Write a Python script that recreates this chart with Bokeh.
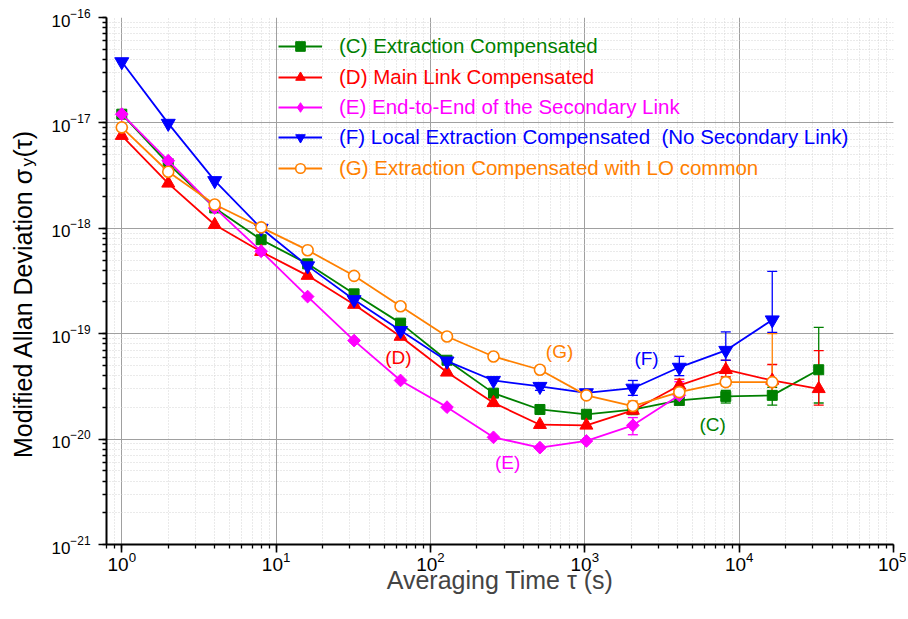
import math
from bokeh.plotting import figure
from bokeh.layouts import row
from bokeh.models import (Range1d, LogTicker, LogTickFormatter, Legend, LegendItem,
                          Whisker, TeeHead, ColumnDataSource, Label)
from bokeh.core.properties import value
from bokeh.embed import file_html
from bokeh.resources import INLINE

FONT = "Liberation Sans"

# ---------------- data ----------------
tau = [1, 2, 4, 8, 16, 32, 64, 128, 256, 512, 1024, 2048, 4096, 8192, 16384, 32768]

C_vals = [1.21e-17, 4.1e-18, 1.56e-18, 7.8e-19, 4.6e-19, 2.39e-19, 1.26e-19, 5.6e-20,
          2.73e-20, 1.91e-20, 1.72e-20, 1.9e-20, 2.33e-20, 2.54e-20, 2.6e-20, 4.55e-20]
D_vals = [7.57e-18, 2.67e-18, 1.08e-18, 6.0e-19, 3.56e-19, 1.89e-19, 9.4e-20, 4.3e-20,
          2.21e-20, 1.37e-20, 1.35e-20, 1.87e-20, 3.23e-20, 4.55e-20, 3.6e-20, 3.0e-20]
E_vals = [1.21e-17, 4.38e-18, 1.56e-18, 6.05e-19, 2.25e-19, 8.6e-20, 3.6e-20, 2.01e-20,
          1.04e-20, 8.3e-21, 9.6e-21, 1.35e-20, 2.6e-20]
F_vals = [3.8e-17, 9.9e-18, 2.83e-18, 1.0e-18, 4.4e-19, 2.1e-19, 1.07e-19, 5.5e-20,
          3.6e-20, 3.16e-20, 2.75e-20, 3.04e-20, 4.8e-20, 6.94e-20, 1.35e-19]
G_vals = [9.06e-18, 3.44e-18, 1.68e-18, 1.02e-18, 6.2e-19, 3.54e-19, 1.82e-19, 9.4e-20,
          6.08e-20, 4.55e-20, 2.6e-20, 2.06e-20, 2.79e-20, 3.47e-20, 3.47e-20]

# error bars: tau, lower, upper
C_err_tau = [4096, 8192, 16384, 32768]
C_err_lo = [2.1e-20, 2.2e-20, 2.1e-20, 2.2e-20]
C_err_hi = [2.6e-20, 2.9e-20, 3.1e-20, 1.15e-19]
D_err_tau = [4096, 8192, 16384, 32768]
D_err_lo = [2.8e-20, 3.9e-20, 2.6e-20, 2.1e-20]
D_err_hi = [3.7e-20, 5.6e-20, 5.1e-20, 6.9e-20]
E_err_tau = [2048, 4096]
E_err_lo = [1.1e-20, 2.1e-20]
E_err_hi = [1.6e-20, 3.5e-20]
F_err_tau = [512, 1024, 2048, 4096, 8192, 16384]
F_err_lo = [2.9e-20, 2.5e-20, 2.6e-20, 4.0e-20, 5.6e-20, 1.03e-19]
F_err_hi = [3.4e-20, 2.95e-20, 3.6e-20, 6.1e-20, 1.04e-19, 3.9e-19]
G_err_tau = [2048, 8192, 16384]
G_err_lo = [1.85e-20, 3.2e-20, 2.7e-20]
G_err_hi = [2.3e-20, 3.8e-20, 1.0e-19]

labels = ["(C) Extraction Compensated",
          "(D) Main Link Compensated",
          "(E) End-to-End of the Secondary Link",
          "(F) Local Extraction Compensated  (No Secondary Link)",
          "(G) Extraction Compensated with LO common"]
colors = ["#008000", "#FF0000", "#FF00FF", "#0000FF", "#FF8000"]

ann_text = ["(C)", "(D)", "(E)", "(F)", "(G)"]
ann_tau = [6730, 62, 316, 2512, 686]
ann_y = [1.38e-20, 5.9e-20, 6.0e-21, 5.8e-20, 6.8e-20]

x_label = "Averaging Time τ (s)"
y_label_parts = ["Modified Allan Deviation σ", "y", "(τ)"]

x_range = (10 ** -0.099, 1e5)
y_range = (1e-21, 1e-16)

# ---------------- layout sizes ----------------
H = 617
LW = 42          # width of the strip holding the y-axis title
W = 906 - LW
B_TOP, B_BOT = 17, 73

# ---------------- main figure ----------------
p = figure(width=W, height=H, x_axis_type="log", y_axis_type="log",
           x_range=Range1d(*x_range), y_range=Range1d(*y_range),
           output_backend="svg", toolbar_location=None,
           min_border_left=106 - LW, min_border_right=13, min_border_top=B_TOP,
           min_border_bottom=B_BOT)
p.outline_line_color = None
p.background_fill_color = "white"

for ax in (p.xaxis[0], p.yaxis[0]):
    ax.ticker = LogTicker(num_minor_ticks=10)
    ax.formatter = LogTickFormatter()
    ax.axis_line_width = 2
    ax.axis_line_color = "black"
    ax.major_tick_in = 0
    ax.major_tick_out = 8
    ax.minor_tick_in = 0
    ax.minor_tick_out = 4
    ax.major_tick_line_width = 1.6
    ax.minor_tick_line_width = 1.3
    ax.major_tick_line_color = "black"
    ax.minor_tick_line_color = "black"
    ax.major_label_text_font = FONT
    ax.major_label_text_color = "black"

p.xaxis.major_label_text_font_size = "19px"
p.yaxis.major_label_text_font_size = "17px"
p.xaxis.major_label_standoff = -1
p.yaxis.major_label_standoff = 8
p.xaxis.axis_label = x_label
p.xaxis.axis_label_text_font = FONT
p.xaxis.axis_label_text_font_size = "25px"
p.xaxis.axis_label_text_font_style = "normal"
p.xaxis.axis_label_standoff = -8

for g in (p.xgrid[0], p.ygrid[0]):
    g.grid_line_color = "#a0a0a0"
    g.grid_line_width = 1
    g.minor_grid_line_color = "#d4d4d4"
    g.minor_grid_line_dash = "1 2"
    g.minor_grid_line_width = 1

# error bars
err_sets = [(C_err_tau, C_err_lo, C_err_hi), (D_err_tau, D_err_lo, D_err_hi),
            (E_err_tau, E_err_lo, E_err_hi), (F_err_tau, F_err_lo, F_err_hi),
            (G_err_tau, G_err_lo, G_err_hi)]
for (et, lo, hi), col in zip(err_sets, colors):
    src = ColumnDataSource(dict(base=et, lower=lo, upper=hi))
    w = Whisker(source=src, base="base", lower="lower", upper="upper",
                line_color=col, line_width=1.3,
                upper_head=TeeHead(size=10, line_color=col, line_width=1.3),
                lower_head=TeeHead(size=10, line_color=col, line_width=1.3))
    p.add_layout(w)

series = [C_vals, D_vals, E_vals, F_vals, G_vals]
markers = [dict(marker="square", size=10),
           dict(marker="triangle", size=13),
           dict(marker="square", size=9, angle=math.pi / 4),
           dict(marker="inverted_triangle", size=14),
           dict(marker="circle", size=11)]

rend = []
for vals, col, mk, i in zip(series, colors, markers, range(5)):
    xs = tau[:len(vals)]
    ln = p.line(xs, vals, line_color=col, line_width=1.8)
    fill = "white" if i == 4 else col
    if i == 2:
        # narrow diamond hidden beneath the rotated squares; used as legend glyph
        sc_leg = p.scatter(xs, vals, marker="diamond", size=10, fill_color=col, line_color=col)
    sc = p.scatter(xs, vals, fill_color=fill, line_color=col,
                   line_width=1.6 if i == 4 else 1, **mk)
    rend.append((ln, sc_leg if i == 2 else sc))

# legends (one per entry, each with its own text colour)
row_centers_from_bottom = [498, 467, 437, 407, 376]
for (ln, sc), lab, col, yc in zip(rend, labels, colors, row_centers_from_bottom):
    leg = Legend(items=[LegendItem(label=lab, renderers=[ln, sc])],
                 location=(172, yc - 12), padding=0, margin=0, spacing=0,
                 glyph_width=44, glyph_height=24, label_height=24, label_standoff=17,
                 label_text_font=FONT, label_text_font_size="20.5px",
                 label_text_color=col, background_fill_alpha=0, border_line_alpha=0)
    p.add_layout(leg)

# curve annotations
ann_colors = dict(zip(ann_text, colors))
for t, xv, yv in zip(ann_text, ann_tau, ann_y):
    p.add_layout(Label(x=xv, y=yv, text=t, text_color=ann_colors[t], text_align="center",
                       text_baseline="middle", text_font=FONT, text_font_size="19px"))

# ---------------- y-axis title strip ----------------
# row() aligns this strip's frame with the main frame (top 17, bottom 73 px borders),
# so its y range is set so that one data unit = one pixel measured from the canvas bottom
ylab = figure(width=LW, height=H, x_range=Range1d(0, LW), y_range=Range1d(B_BOT, H - B_TOP),
              output_backend="svg", toolbar_location=None,
              x_axis_location=None, y_axis_location=None,
              min_border_left=0, min_border_right=0, min_border_top=B_TOP,
              min_border_bottom=B_BOT)
ylab.outline_line_color = None
ylab.xgrid.visible = False
ylab.ygrid.visible = False

TS = 25
base_x = 22
joint_y = 450      # where "σ" ends and the subscript begins (pixels from canvas bottom)
ylab.text(x=[base_x], y=[joint_y], text=[y_label_parts[0]], angle=math.pi / 2,
          text_align="right", text_baseline="alphabetic", text_font=value(FONT),
          text_font_size=f"{TS}px", text_color="black")
ylab.text(x=[base_x + 5], y=[joint_y + 1], text=[y_label_parts[1]], angle=math.pi / 2,
          text_align="left", text_baseline="alphabetic", text_font=value(FONT),
          text_font_size="17px", text_color="black")
ylab.text(x=[base_x], y=[joint_y + 10], text=[y_label_parts[2]], angle=math.pi / 2,
          text_align="left", text_baseline="alphabetic", text_font=value(FONT),
          text_font_size=f"{TS}px", text_color="black")

layout = row(ylab, p)
open("out.html", "w").write(file_html(layout, INLINE))
